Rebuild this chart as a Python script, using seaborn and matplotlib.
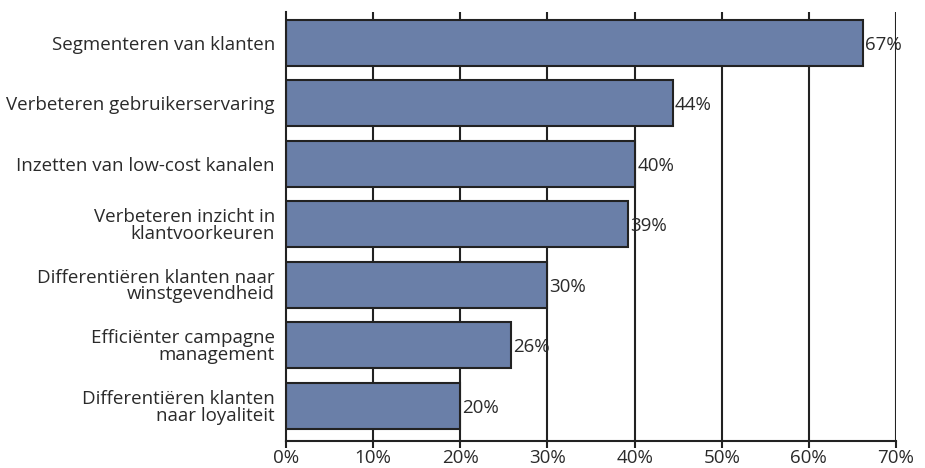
import matplotlib
matplotlib.use("Agg")
import matplotlib.pyplot as plt
import seaborn as sns
import pandas as pd

categories = [
    "Segmenteren van klanten",
    "Verbeteren gebruikerservaring",
    "Inzetten van low-cost kanalen",
    "Verbeteren inzicht in\nklantvoorkeuren",
    "Differentiëren klanten naar\nwinstgevendheid",
    "Efficiënter campagne\nmanagement",
    "Differentiëren klanten\nnaar loyaliteit",
]
values = [66.2, 44.4, 40.1, 39.3, 30.0, 25.8, 20.0]
value_labels = ["67%", "44%", "40%", "39%", "30%", "26%", "20%"]
x_ticks = [0, 10, 20, 30, 40, 50, 60, 70]
x_ticklabels = ["0%", "10%", "20%", "30%", "40%", "50%", "60%", "70%"]

sns.set_style("white")
plt.rcParams["font.family"] = ["Open Sans", "DejaVu Sans"]

df = pd.DataFrame({"cat": categories, "val": values})

fig = plt.figure(figsize=(9.25, 4.68), dpi=100)
ax = fig.add_axes([286/925, 27/468, 610/925, 429/468])

dark = "#222222"
text_col = "#2a2a2a"
fs = 13.5
for xt in x_ticks[1:]:
    ax.axvline(xt, color=dark, lw=1.5, zorder=0)

sns.barplot(data=df, y="cat", x="val", orient="h", color="#6a7fa8",
            saturation=1, edgecolor=dark, linewidth=1.5, width=0.76, ax=ax, zorder=2)

ax.set_xlim(0, 70)
ax.set_ylim(6.58, -0.51)
ax.set_xticks(x_ticks)
ax.set_xticklabels(x_ticklabels, fontsize=fs, color=text_col)
ax.set_xlabel("")
ax.set_ylabel("")
ax.tick_params(axis="x", bottom=True, length=5, width=1.5, color=dark, pad=1)
ax.tick_params(axis="y", left=False, length=0, pad=8)
for lab in ax.get_yticklabels():
    lab.set_fontsize(fs)
    lab.set_color(text_col)
    lab.set_linespacing(0.9)

for s in ["top", "right"]:
    ax.spines[s].set_visible(False)
for s in ["left", "bottom"]:
    ax.spines[s].set_color(dark)
    ax.spines[s].set_linewidth(1.5)

for i, (v, lbl) in enumerate(zip(values, value_labels)):
    ax.text(v + 0.25, i + 0.03, lbl, va="center", ha="left", fontsize=fs,
            color=text_col, zorder=3)

fig.savefig("out.png", dpi=100)
